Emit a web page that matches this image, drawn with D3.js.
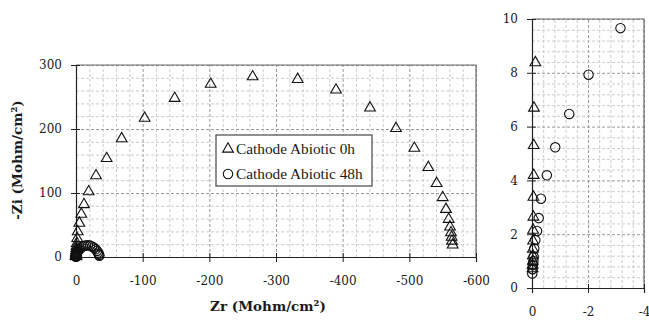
<!DOCTYPE html>
<html>
<head>
<meta charset="utf-8">
<script src="https://cdnjs.cloudflare.com/ajax/libs/d3/7.8.5/d3.min.js"></script>
<style>
  body { margin: 0; background: #fff; }
  svg text { fill: #1a1a1a; }
  .tick text { font-family: "DejaVu Serif", serif; font-size: 12px; }
  .title { font-family: "DejaVu Serif", serif; font-size: 13.5px; font-weight: bold; }
  .legend { font-family: "Liberation Serif", serif; font-size: 15.3px; }
</style>
</head>
<body>
<div id="chart"></div>
<script>
// Cathode Abiotic 0h (triangles): Zr and -Zi values
var zr0h = [-0.02, -0.02, -0.03, -0.03, -0.03, -0.04, -0.04, -0.05, -0.05, -0.06,
            -0.06, -0.07, -0.12, -0.3, -0.5, -0.8, -1.2, -1.8, -2.6, -5,
            -8, -12, -19, -30, -46, -68.5, -103, -148, -202, -265,
            -332.5, -390, -441, -480, -507.5, -528.5, -541, -550, -555, -559,
            -561, -562.5, -563.5, -564, -565];
var zi0h = [0.72, 0.85, 1.0, 1.2, 1.45, 1.75, 2.15, 2.64, 3.38, 4.19,
            5.3, 6.69, 8.38, 10.6, 13.5, 17, 21.5, 29, 39.6, 53,
            67, 82, 102, 127, 154, 185, 217, 248, 270, 281.7,
            277.6, 261, 233, 201, 170, 140, 115, 93, 74.5, 59,
            47, 38, 31, 25, 19];

// Cathode Abiotic 48h (circles)
var zr48h = [-0.01, -0.02, -0.03, -0.05, -0.06, -0.08, -0.12, -0.18, -0.24, -0.32,
             -0.53, -0.83, -1.33, -2.02, -3.16, -4.5, -6, -8, -10, -12.5,
             -15, -18, -21, -24, -27, -29.5, -31.5, -33, -34, -34.7, -35];
var zi48h = [0.54, 0.7, 0.85, 1.0, 1.16, 1.47, 1.78, 2.12, 2.6, 3.32,
             4.19, 5.23, 6.47, 7.93, 9.66, 11.5, 13, 15, 16.5, 17.5,
             18, 18.3, 17.8, 16.5, 14.5, 12, 9.5, 7, 5, 3.2, 2];

var seriesNames = ["Cathode Abiotic 0h", "Cathode Abiotic 48h"];

// tick values for the two panels
var mainXTicks = [0, -100, -200, -300, -400, -500, -600];
var mainYTicks = [0, 100, 200, 300];
var zoomXTicks = [0, -2, -4];
var zoomYTicks = [0, 2, 4, 6, 8, 10];

var series = [
  {name: seriesNames[0], shape: "triangle",
   points: zr0h.map(function(d, i) { return {zr: d, zi: zi0h[i]}; })},
  {name: seriesNames[1], shape: "circle",
   points: zr48h.map(function(d, i) { return {zr: d, zi: zi48h[i]}; })}
];

var svg = d3.select("#chart").append("svg")
    .attr("width", 649)
    .attr("height", 320);

// panel layouts: full view on the left, zoom near the origin on the right
var panels = [
  {left: 76, top: 65, width: 400, height: 192,
   xDomain: [0, -600], yDomain: [0, 300], minor: 20, minorY: 20,
   xTicks: mainXTicks, yTicks: mainYTicks},
  {left: 532, top: 19, width: 112, height: 269,
   xDomain: [0, -4], yDomain: [0, 10], minor: 0.4, minorY: 0.4,
   xTicks: zoomXTicks, yTicks: zoomYTicks}
];

var triangle = d3.symbol().type(d3.symbolTriangle).size(50);

function drawMarker(sel, shape) {
  if (shape === "triangle") {
    sel.append("path").attr("d", triangle)
      .attr("fill", "none").attr("stroke", "#111").attr("stroke-width", 1.1);
  } else {
    sel.append("circle").attr("r", 4.7)
      .attr("fill", "none").attr("stroke", "#111").attr("stroke-width", 1.1);
  }
}

function isMajor(ticks, d) {
  return ticks.some(function(t) { return Math.abs(t - d) < 1e-6; });
}

panels.forEach(function(p) {
  var x = d3.scaleLinear().domain(p.xDomain).range([0, p.width]);
  var y = d3.scaleLinear().domain(p.yDomain).range([p.height, 0]);

  var g = svg.append("g")
      .attr("transform", "translate(" + p.left + "," + p.top + ")");

  // grid (minor light, major a bit darker)
  var minorX = d3.range(p.xDomain[0], p.xDomain[1] - 1e-9, -p.minor);
  var minorY = d3.range(p.yDomain[0], p.yDomain[1] + 1e-9, p.minorY);

  g.append("g")
      .attr("transform", "translate(0," + p.height + ")")
      .call(d3.axisBottom(x).tickValues(minorX).tickSize(-p.height).tickFormat(""))
      .call(function(a) { a.select(".domain").remove(); })
      .selectAll("line")
      .attr("stroke", function(d) { return isMajor(p.xTicks, d) ? "#9a9a9a" : "#cdcdcd"; })
      .attr("stroke-dasharray", "3,2");

  g.append("g")
      .call(d3.axisLeft(y).tickValues(minorY).tickSize(-p.width).tickFormat(""))
      .call(function(a) { a.select(".domain").remove(); })
      .selectAll("line")
      .attr("stroke", function(d) { return isMajor(p.yTicks, d) ? "#9a9a9a" : "#cdcdcd"; })
      .attr("stroke-dasharray", "3,2");

  // plot border (top and right)
  g.append("path")
      .attr("d", "M0,0H" + p.width + "V" + p.height)
      .attr("fill", "none")
      .attr("stroke", "#6b6b6b")
      .attr("stroke-width", 1.2);

  // x axis
  var xa = g.append("g")
      .attr("transform", "translate(0," + p.height + ")")
      .call(d3.axisBottom(x).tickValues(p.xTicks).tickSize(5).tickFormat(function(d) { return d; }));
  xa.select(".domain").attr("stroke", "#222").attr("stroke-width", 1.2);
  xa.selectAll(".tick line").attr("y1", -4).attr("stroke", "#222");
  xa.selectAll(".tick text").attr("y", 19);

  // y axis
  var ya = g.append("g")
      .call(d3.axisLeft(y).tickValues(p.yTicks).tickSize(5).tickFormat(function(d) { return d; }));
  ya.select(".domain").attr("stroke", "#222").attr("stroke-width", 1.2);
  ya.selectAll(".tick line").attr("x1", 4).attr("stroke", "#222");
  ya.selectAll(".tick text").attr("x", -14);

  // markers
  series.forEach(function(s) {
    var pts = s.points.filter(function(d) {
      return d.zi <= p.yDomain[1] && d.zr >= p.xDomain[1];
    });
    g.selectAll(null)
        .data(pts)
      .enter().append("g")
        .attr("transform", function(d) { return "translate(" + x(d.zr) + "," + y(d.zi) + ")"; })
        .each(function() { drawMarker(d3.select(this), s.shape); });
  });
});

// axis titles
svg.append("text")
    .attr("class", "title")
    .attr("x", 268)
    .attr("y", 311)
    .attr("text-anchor", "middle")
    .text("Zr (Mohm/cm²)");

svg.append("text")
    .attr("class", "title")
    .attr("transform", "translate(22,160) rotate(-90)")
    .attr("text-anchor", "middle")
    .text("-Zi (Mohm/cm²)");

// legend
var legend = svg.append("g").attr("transform", "translate(216,135)");
legend.append("rect")
    .attr("width", 156)
    .attr("height", 51)
    .attr("fill", "#fff")
    .attr("stroke", "#555")
    .attr("stroke-width", 1.3);

series.forEach(function(s, i) {
  var row = legend.append("g").attr("transform", "translate(12," + (14 + i * 25) + ")");
  drawMarker(row, s.shape);
  row.append("text")
      .attr("class", "legend")
      .attr("x", 8)
      .attr("dy", "0.35em")
      .text(s.name);
});
</script>
</body>
</html>
